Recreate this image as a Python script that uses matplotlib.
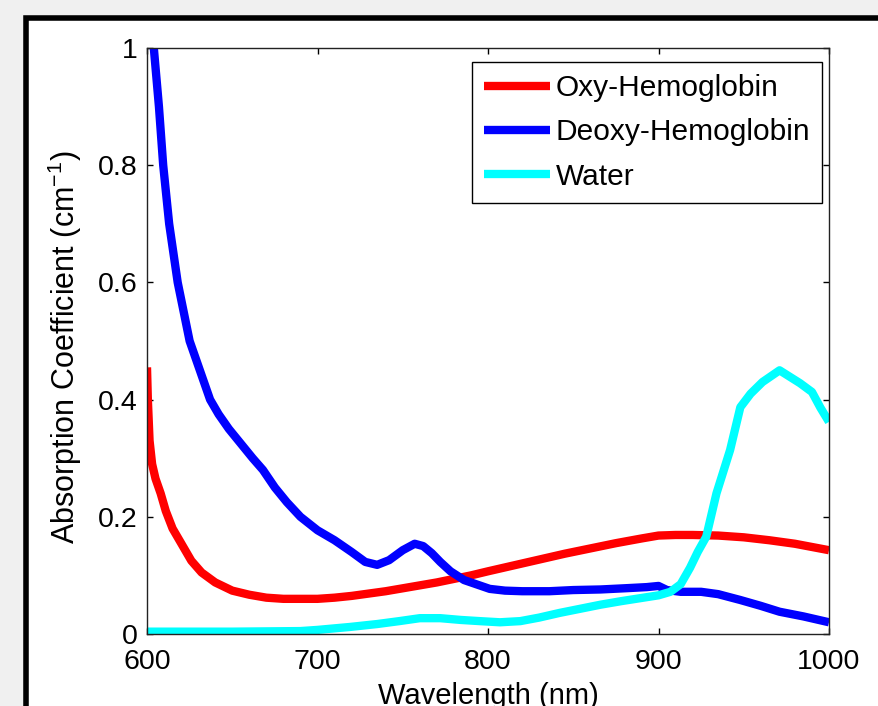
import numpy as np
import matplotlib
matplotlib.use('Agg')
import matplotlib.pyplot as plt
from matplotlib.patches import Rectangle

# absorption spectra
oxy_nm = [600, 600.5, 601.5, 603, 605, 608, 611, 615, 620, 626, 632, 640, 650, 660, 670,
          680, 690, 700, 710, 720, 730, 740, 750, 760, 770, 780, 790, 800, 815, 830, 845,
          860, 875, 890, 900, 910, 920, 935, 950, 965, 980, 1000]
oxy = [0.455, 0.40, 0.33, 0.29, 0.265, 0.24, 0.21, 0.18, 0.155, 0.125, 0.105, 0.088, 0.074,
       0.067, 0.062, 0.06, 0.06, 0.06, 0.062, 0.065, 0.069, 0.073, 0.078, 0.083, 0.088,
       0.094, 0.1, 0.107, 0.117, 0.127, 0.137, 0.146, 0.155, 0.163, 0.168, 0.169, 0.169,
       0.168, 0.165, 0.16, 0.154, 0.143]

deoxy_nm = [604, 607, 609.5, 613, 618, 625, 631, 637, 642, 648, 655, 662, 668, 675, 682,
            690, 700, 710, 720, 728, 735, 742, 750, 757, 762, 767, 772, 778, 786, 794, 801,
            810, 820, 836, 850, 866, 880, 893, 900, 905, 913, 925, 935, 948, 960, 971, 985, 1000]
deoxy = [1.0, 0.9, 0.8, 0.7, 0.6, 0.5, 0.45, 0.40, 0.375, 0.35, 0.325, 0.30, 0.28, 0.25,
         0.225, 0.20, 0.177, 0.16, 0.14, 0.123, 0.118, 0.126, 0.143, 0.154, 0.15, 0.138,
         0.123, 0.107, 0.092, 0.084, 0.077, 0.074, 0.073, 0.073, 0.075, 0.076, 0.078, 0.08,
         0.082, 0.075, 0.072, 0.072, 0.068, 0.058, 0.048, 0.038, 0.03, 0.02]

water_nm = [600, 650, 690, 700, 719, 735, 748, 760, 772, 784, 795, 807, 819, 830, 842, 854,
            866, 878, 889, 900, 907, 913, 918.5, 923, 928, 934, 942, 948, 954, 961, 966, 971,
            977, 983, 990, 995, 1000]
water = [0.004, 0.004, 0.005, 0.007, 0.012, 0.017, 0.022, 0.027, 0.027, 0.024, 0.022, 0.02,
         0.022, 0.028, 0.036, 0.043, 0.05, 0.056, 0.061, 0.066, 0.072, 0.085, 0.113, 0.14,
         0.166, 0.24, 0.314, 0.387, 0.41, 0.43, 0.44, 0.45, 0.439, 0.428, 0.413, 0.386, 0.362]

labels = ['Oxy-Hemoglobin', 'Deoxy-Hemoglobin', 'Water']
xticks = [600, 700, 800, 900, 1000]
yticks = [0, 0.2, 0.4, 0.6, 0.8, 1]
yticklabels = ['0', '0.2', '0.4', '0.6', '0.8', '1']

plt.rcParams['font.family'] = ['Liberation Sans', 'DejaVu Sans']
plt.rcParams['mathtext.fontset'] = 'custom'
plt.rcParams['mathtext.rm'] = 'Liberation Sans'

fig = plt.figure(figsize=(8.79, 7.06), dpi=100, facecolor='#f0f0f0')
# white panel with thick black border (only top/left visible)
fig.add_artist(Rectangle((26.5/879, -0.2), 1.2, 1.2 - 18/706, transform=fig.transFigure,
                         facecolor='white', edgecolor='black', linewidth=4, zorder=0))

ax = fig.add_axes([147/879, 72/706, 682/879, 586/706])
ax.plot(oxy_nm, oxy, color='#ff0000', lw=6, label=labels[0], solid_capstyle='butt')
ax.plot(deoxy_nm, deoxy, color='#0000ff', lw=6, label=labels[1], solid_capstyle='butt')
ax.plot(water_nm, water, color='#00ffff', lw=6, label=labels[2], solid_capstyle='butt')

ax.set_xlim(600, 1000)
ax.set_ylim(0, 1)
ax.set_xticks(xticks)
ax.set_yticks(yticks)
ax.set_yticklabels(yticklabels)
ax.tick_params(direction='in', top=True, right=True, length=4, width=1, labelsize=20.5)
ax.tick_params(axis='x', pad=11)
ax.tick_params(axis='y', pad=7)
for s in ax.spines.values():
    s.set_linewidth(1)
    s.set_color('#222222')

ax.set_xlabel('Wavelength (nm)', fontsize=21)
ax.set_ylabel('Absorption Coefficient (cm$^{\\mathrm{-1}}$)', fontsize=22)
ax.xaxis.set_label_coords(0.5, -0.082)
ax.yaxis.set_label_coords(-0.092, 0.49)

leg = ax.legend(loc='upper right', bbox_to_anchor=(0.99, 0.976), borderaxespad=0,
                fontsize=21.5, handlelength=2.2, handletextpad=0.2, labelspacing=0.55,
                borderpad=0.4, fancybox=False, framealpha=1, edgecolor='black')
leg.get_frame().set_linewidth(1)

plt.savefig('out.png', dpi=100, facecolor=fig.get_facecolor())
